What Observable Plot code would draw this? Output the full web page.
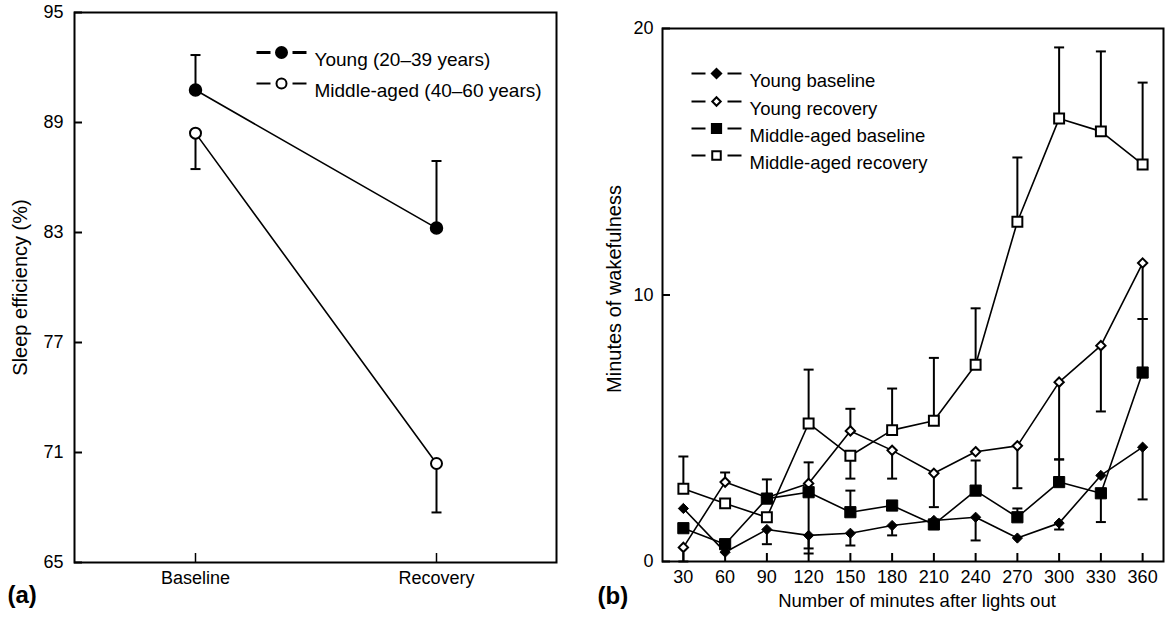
<!DOCTYPE html>
<html>
<head>
<meta charset="utf-8">
<script src="https://cdn.jsdelivr.net/npm/d3@7"></script>
<script src="https://cdn.jsdelivr.net/npm/@observablehq/plot@0.6"></script>
<style>
  html, body { margin: 0; padding: 0; background: #fff; }
  #wrap { position: relative; width: 1168px; height: 618px; overflow: hidden; background: #fff; }
  #wrap > svg { position: absolute; top: 0; }
</style>
</head>
<body>
<div id="wrap"></div>
<script>
// ---------- Panel (a) data ----------
const conditions = ["Baseline", "Recovery"];
const groupsA = ["Young (20–39 years)", "Middle-aged (40–60 years)"];
const youngEff = [90.77, 83.24];
const youngEffErr = [92.68, 86.9];
const middleEff = [88.42, 70.4];
const middleEffErr = [86.46, 67.73];
const yTicksA = [65, 71, 77, 83, 89, 95];

// ---------- Panel (b) data ----------
const minutes = [30, 60, 90, 120, 150, 180, 210, 240, 270, 300, 330, 360];
const seriesB = ["Young baseline", "Young recovery", "Middle-aged baseline", "Middle-aged recovery"];
const youngBaseline    = [1.99, 0.35, 1.2, 0.98, 1.06, 1.35, 1.54, 1.66, 0.88, 1.44, 3.23, 4.29];
const youngBaselineErr = [null, null, 0.65, 0.49, 0.6, 0.98, null, 0.79, null, 1.2, null, 2.33];
const youngRecovery    = [0.53, 2.98, 2.4, 2.93, 4.9, 4.17, 3.31, 4.12, 4.34, 6.73, 8.1, 11.2];
const youngRecoveryErr = [0.0, 3.34, null, 3.72, 5.73, 3.11, 2.04, null, 2.75, 3.83, 5.63, 9.1];
const middleBaseline    = [1.25, 0.65, 2.36, 2.6, 1.85, 2.1, 1.39, 2.66, 1.66, 2.98, 2.56, 7.09];
const middleBaselineErr = [null, null, 3.08, 0.3, 2.66, null, null, 3.79, 1.99, 3.83, 1.48, 9.1];
const middleRecovery    = [2.73, 2.18, 1.66, 5.18, 3.97, 4.93, 5.28, 7.38, 12.75, 16.62, 16.14, 14.9];
const middleRecoveryErr = [3.94, null, null, 7.2, 3.11, 6.49, 7.64, 9.5, 15.16, 19.29, 19.14, 17.97];
const yTicksB = [0, 10, 20];

// ---------- helpers ----------
const font = "'Liberation Sans', Arial, Helvetica, sans-serif";
const dash = w => ({ draw(ctx) { ctx.moveTo(-w / 2, 0); ctx.lineTo(w / 2, 0); } });
const cap = dash(10);

function legendRow(label, dy, x0, symbol, r, fill, dashW, fs) {
  return [
    Plot.dot([0], {frameAnchor: "top-left", dx: x0, dy, symbol: dash(14), stroke: "black", strokeWidth: dashW}),
    Plot.dot([0], {frameAnchor: "top-left", dx: x0 + 18, dy, symbol, r, fill, stroke: "black", strokeWidth: 2}),
    Plot.dot([0], {frameAnchor: "top-left", dx: x0 + 36, dy, symbol: dash(14), stroke: "black", strokeWidth: dashW}),
    Plot.text([label], {text: d => d, frameAnchor: "top-left", dx: x0 + 51, dy, textAnchor: "start", fontSize: fs})
  ];
}

// ---------- Panel (a) ----------
const rowsA = conditions.flatMap((c, i) => [
  {cond: c, group: groupsA[0], v: youngEff[i], e: youngEffErr[i]},
  {cond: c, group: groupsA[1], v: middleEff[i], e: middleEffErr[i]}
]);
const youngRows = rowsA.filter(d => d.group === groupsA[0]);
const middleRows = rowsA.filter(d => d.group === groupsA[1]);

const plotA = Plot.plot({
  width: 580, height: 618,
  marginLeft: 74, marginRight: 24, marginTop: 12, marginBottom: 56,
  style: {fontFamily: font, fontSize: "18px", background: "transparent", color: "black"},
  x: {type: "point", domain: conditions, padding: 0.5},
  y: {domain: [65, 95]},
  marks: [
    Plot.axisY({ticks: yTicksA, tickSize: -8, tickPadding: 19, strokeWidth: 2, label: null, fontSize: 18}),
    Plot.axisX({tickSize: -9, tickPadding: 18, strokeWidth: 1.5, label: null, fontSize: 18}),
    Plot.frame({stroke: "black", strokeWidth: 2}),
    Plot.ruleX(rowsA, {x: "cond", y1: "v", y2: "e", strokeWidth: 2}),
    Plot.dot(rowsA, {x: "cond", y: "e", symbol: cap, stroke: "black", strokeWidth: 2}),
    Plot.line(youngRows, {x: "cond", y: "v", strokeWidth: 1.6}),
    Plot.line(middleRows, {x: "cond", y: "v", strokeWidth: 1.6}),
    Plot.dot(youngRows, {x: "cond", y: "v", r: 6, fill: "black", stroke: "black", strokeWidth: 1.5}),
    Plot.dot(middleRows, {x: "cond", y: "v", r: 5.5, fill: "white", stroke: "black", strokeWidth: 2}),
    ...legendRow(groupsA[0], 40, 189, "circle", 5.5, "black", 3, 19),
    ...legendRow(groupsA[1], 71, 189, "circle", 5, "white", 2, 19),
    Plot.text(["Sleep efficiency (%)"], {text: d => d, frameAnchor: "left", textAnchor: "middle", dx: -54, rotate: -90, fontSize: 20}),
    Plot.text(["(a)"], {text: d => d, frameAnchor: "bottom-left", dx: -67, dy: 40, textAnchor: "start", fontSize: 24, fontWeight: "bold"})
  ]
});
plotA.style.left = "0px";

// ---------- Panel (b) ----------
const rowsB = [];
const valsB = [youngBaseline, youngRecovery, middleBaseline, middleRecovery];
const errsB = [youngBaselineErr, youngRecoveryErr, middleBaselineErr, middleRecoveryErr];
seriesB.forEach((s, k) => minutes.forEach((m, i) => rowsB.push({series: s, m, v: valsB[k][i], e: errsB[k][i]})));
const errRows = rowsB.filter(d => d.e !== null);
const bySeries = s => rowsB.filter(d => d.series === s);

const plotB = Plot.plot({
  width: 588, height: 618,
  marginLeft: 82, marginRight: 5, marginTop: 28, marginBottom: 57,
  style: {fontFamily: font, fontSize: "18px", background: "transparent", color: "black"},
  x: {domain: [15, 375]},
  y: {domain: [0, 20]},
  marks: [
    Plot.axisY({ticks: yTicksB, tickSize: -8, tickPadding: 17, strokeWidth: 2, label: null, fontSize: 18}),
    Plot.axisX({ticks: minutes, tickSize: -8, tickPadding: 17, strokeWidth: 2, label: null, fontSize: 18}),
    Plot.frame({stroke: "black", strokeWidth: 2}),
    Plot.ruleX(errRows, {x: "m", y1: "v", y2: "e", strokeWidth: 2}),
    Plot.dot(errRows, {x: "m", y: "e", symbol: cap, stroke: "black", strokeWidth: 2}),
    ...seriesB.map(s => Plot.line(bySeries(s), {x: "m", y: "v", strokeWidth: 1.6})),
    Plot.dot(bySeries(seriesB[0]), {x: "m", y: "v", symbol: "diamond2", r: 4.6, fill: "black", stroke: "black", strokeWidth: 1}),
    Plot.dot(bySeries(seriesB[1]), {x: "m", y: "v", symbol: "diamond2", r: 4.2, fill: "white", stroke: "black", strokeWidth: 2}),
    Plot.dot(bySeries(seriesB[2]), {x: "m", y: "v", symbol: "square", r: 6.3, fill: "black", stroke: "black", strokeWidth: 1}),
    Plot.dot(bySeries(seriesB[3]), {x: "m", y: "v", symbol: "square", r: 5.6, fill: "white", stroke: "black", strokeWidth: 2}),
    ...legendRow(seriesB[0], 45, 36, "diamond2", 4.2, "black", 2, 18.5),
    ...legendRow(seriesB[1], 73, 36, "diamond2", 3.8, "white", 2, 18.5),
    ...legendRow(seriesB[2], 100, 36, "square", 5.2, "black", 2, 18.5),
    ...legendRow(seriesB[3], 127, 36, "square", 4.8, "white", 2, 18.5),
    Plot.text(["Minutes of wakefulness"], {text: d => d, frameAnchor: "left", textAnchor: "middle", dx: -48, dy: -6, rotate: -90, fontSize: 20}),
    Plot.text(["Number of minutes after lights out"], {text: d => d, frameAnchor: "bottom", dx: 4, dy: 45, fontSize: 18.5}),
    Plot.text(["(b)"], {text: d => d, frameAnchor: "bottom-left", dx: -65, dy: 42, textAnchor: "start", fontSize: 24, fontWeight: "bold"})
  ]
});
plotB.style.left = "580px";

const wrap = document.getElementById("wrap");
wrap.appendChild(plotA);
wrap.appendChild(plotB);
</script>
</body>
</html>
